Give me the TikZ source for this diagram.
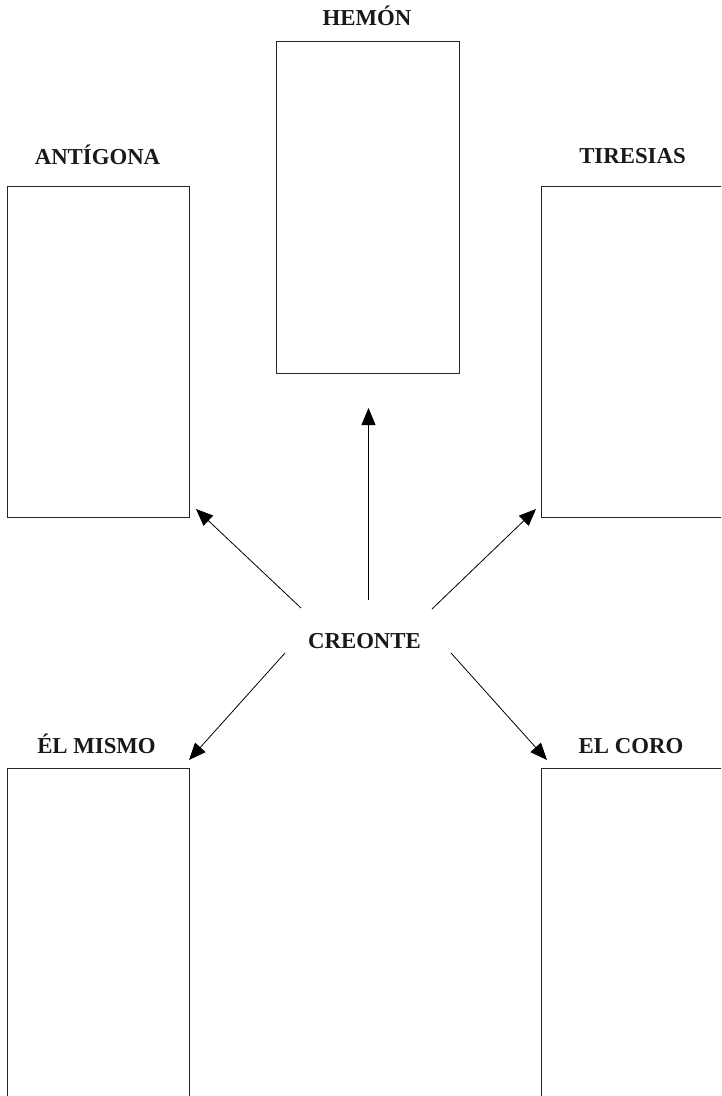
\documentclass[tikz,border=0pt]{standalone}
\usepackage{fontspec}
\setmainfont{Liberation Serif}
\usetikzlibrary{arrows.meta}
\begin{document}
\begin{tikzpicture}[x=1pt,y=-1pt,
  box/.style={draw=black!85,line width=0.9pt,minimum width=182pt,minimum height=331pt,inner sep=0pt},
  lbl/.style={font=\fontsize{22.8}{26}\selectfont\bfseries,text=black!90,inner sep=0pt,anchor=base},
  arr/.style={line width=0.8pt,-{Triangle[length=17pt,width=14pt]}}]
\useasboundingbox (0,0) rectangle (721,1096);
\clip (0,0) rectangle (721,1096);
\fill[white] (0,0) rectangle (721,1096);
% boxes
\node[box] (ant) at (98,351.5) {};
\node[box,minimum width=183pt,minimum height=332pt] (hem) at (367.5,207) {};
\node[box] (tir) at (632,351.5) {};
\node[box] (elm) at (98,933.5) {};
\node[box] (cor) at (632,933.5) {};
% labels
\node[lbl] (lant) at (97.5,164) {ANTÍGONA};
\node[lbl] (lhem) at (367,25) {HEMÓN};
\node[lbl] (ltir) at (632.5,163.5) {TIRESIAS};
\node[lbl] (lelm) at (96.5,753) {ÉL MISMO};
\node[lbl] (lcor) at (631,753) {EL CORO};
\node[lbl] (cre) at (364.5,648) {CREONTE};
% arrow endpoints
\coordinate (s1) at (301,608);
\coordinate (e1) at (196,509);
\coordinate (s2) at (368.5,600);
\coordinate (e2) at (368.5,408);
\coordinate (s3) at (432,609);
\coordinate (e3) at (536,509);
\coordinate (s4) at (285,653);
\coordinate (e4) at (189,760);
\coordinate (s5) at (451,653);
\coordinate (e5) at (547,760);
\draw[arr] (s1) -- (e1);
\draw[arr] (s2) -- (e2);
\draw[arr] (s3) -- (e3);
\draw[arr] (s4) -- (e4);
\draw[arr] (s5) -- (e5);
\end{tikzpicture}
\end{document}
